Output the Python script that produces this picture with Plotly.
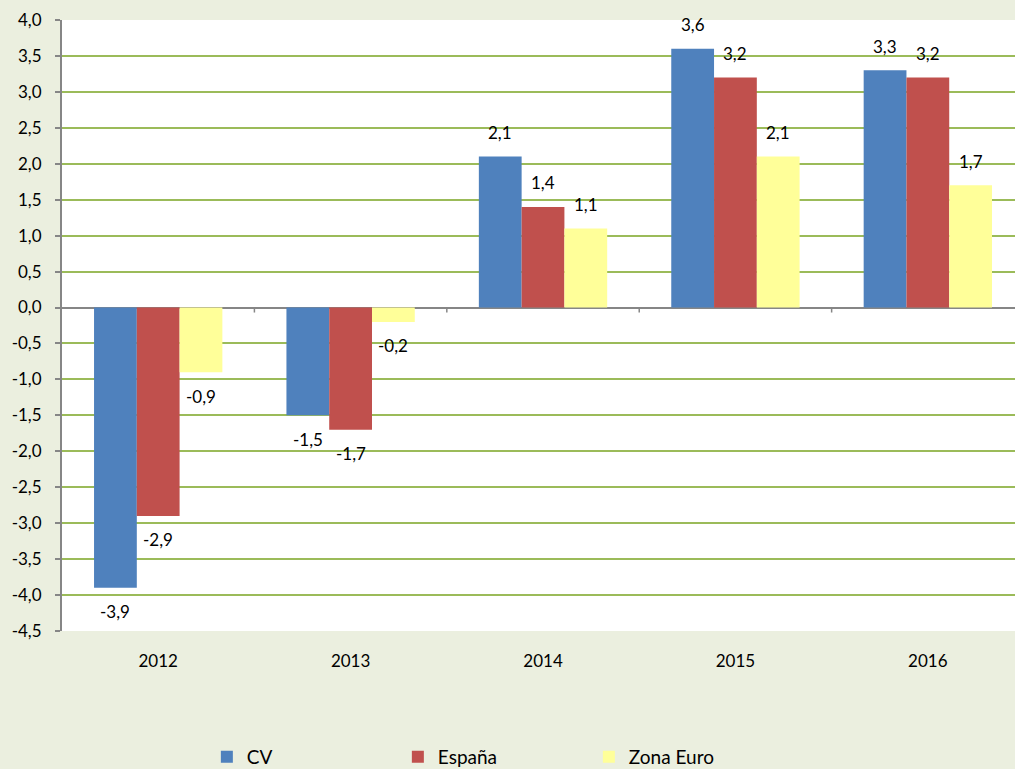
import plotly.graph_objects as go

years = ["2012", "2013", "2014", "2015", "2016"]
series_names = ["CV", "España", "Zona Euro"]
cv = [-3.9, -1.5, 2.1, 3.6, 3.3]
espana = [-2.9, -1.7, 1.4, 3.2, 3.2]
zona_euro = [-0.9, -0.2, 1.1, 2.1, 1.7]
y_ticks = [-4.5, -4.0, -3.5, -3.0, -2.5, -2.0, -1.5, -1.0, -0.5, 0.0,
           0.5, 1.0, 1.5, 2.0, 2.5, 3.0, 3.5, 4.0]

colors = ["#4F81BD", "#C0504D", "#FFFF99"]
FONT = "Lato, 'Open Sans', sans-serif"
W, H = 1015, 769
ML, MR, MT, MB = 62, 0, 20, 138
BARGAP = 0.333
X_RANGE = [-0.5, 4.453]
Y_RANGE = [-4.5, 4.0]

def fmt(v):
    return f"{v:.1f}".replace(".", ",")

fig = go.Figure()
all_series = [cv, espana, zona_euro]
for name, vals, col in zip(series_names, all_series, colors):
    fig.add_trace(go.Bar(
        x=years, y=vals, name=name, marker_color=col,
        marker_line_width=0, hoverinfo="skip"))

plot_w = W - ML - MR
cat_px = plot_w / (X_RANGE[1] - X_RANGE[0])
bar_px = cat_px * (1 - BARGAP) / 3

# data labels (category axis positions given by category index)
for i, vals in enumerate(all_series):
    for j, v in enumerate(vals):
        fig.add_annotation(
            x=j, y=v, xref="x", yref="y", text=fmt(v), showarrow=False,
            xshift=(i - 1) * bar_px, yshift=24 if v >= 0 else -24,
            font=dict(family=FONT, size=17, color="#000000"))

# small tick marks below the zero line at category boundaries
for k in range(len(years) - 1):
    fig.add_shape(type="line", xref="x", yref="y", x0=k + 0.5, x1=k + 0.5,
                  ysizemode="pixel", yanchor=0, y0=0, y1=-5,
                  line=dict(color="#868686", width=1.5))

fig.update_layout(
    width=W, height=H,
    margin=dict(l=ML, r=MR, t=MT, b=MB, autoexpand=False),
    paper_bgcolor="#EBEFDF", plot_bgcolor="#FFFFFF",
    barmode="group", bargap=BARGAP, bargroupgap=0,
    font=dict(family=FONT, size=17, color="#000000"),
    xaxis=dict(type="category", categoryarray=years, range=X_RANGE,
               showgrid=False, zeroline=False, showline=False, ticks="outside",
               ticklen=15, tickcolor="rgba(0,0,0,0)",
               tickfont=dict(size=17), fixedrange=True),
    yaxis=dict(range=Y_RANGE, tickvals=y_ticks,
               ticktext=[fmt(t) for t in y_ticks],
               showgrid=True, gridcolor="#9BBB59", gridwidth=2,
               zeroline=True, zerolinecolor="#868686", zerolinewidth=2,
               showline=True, linecolor="#868686", linewidth=2,
               ticks="outside", ticklen=5, tickcolor="#868686", tickwidth=1.5,
               ticklabelstandoff=10,
               tickfont=dict(size=17), fixedrange=True),
    legend=dict(orientation="h", x=0.152, xanchor="left", y=-0.206, yanchor="middle",
                entrywidth=146, font=dict(size=19), bgcolor="rgba(0,0,0,0)",
                itemwidth=30),
    showlegend=True,
)

fig.write_html("out.html", config={"displayModeBar": False},
               post_script="document.body.style.margin='0';document.body.style.padding='0';")
